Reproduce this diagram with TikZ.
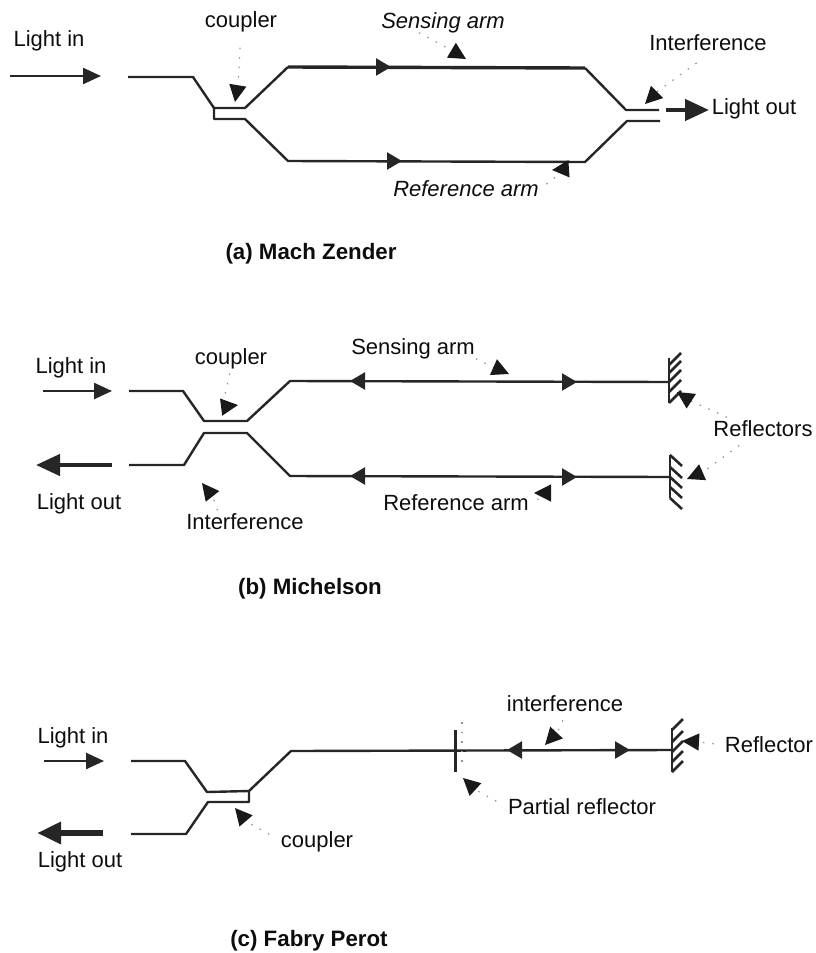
\documentclass[tikz,border=0pt]{standalone}
\usepackage{fontspec}
\setmainfont{Liberation Sans}
\usetikzlibrary{arrows.meta}

\begin{document}
\begin{tikzpicture}[
            x=1pt, y=-1pt,
            label/.style = {inner sep=1pt, text height=18pt, text depth=3pt, text=black!95, font=\fontsize{22}{24}\selectfont},
            caption/.style = {label, font=\fontsize{22.3}{24}\selectfont\bfseries},
            armlabel/.style = {label, font=\fontsize{22}{24}\selectfont\itshape},
            fibre/.style = {draw=black!85, line width=2.4pt, line join=round},
            flow/.style = {fibre, -{Triangle[length=15pt, width=17pt]}},
            lightin/.style = {fibre, -{Triangle[length=18pt, width=16pt]}},
            lightout/.style = {fibre, line width=4.4pt, -{Triangle[length=24pt, width=21pt]}},
            pointer/.style = {draw=black!42, line width=1.2pt, dash pattern=on 1.5pt off 8pt, -{Triangle[length=17pt, width=17pt, black!90]}},
            mirror/.style = {fibre, line width=2.6pt},
        ]
            \useasboundingbox (0,0) rectangle (816,953);

            % (a) Labels
            \node[label] (inA) at (49,39) {Light in};
            \node[label] (cplA) at (241,20) {coupler};
            \node[armlabel] (sensA) at (443,21) {Sensing arm};
            \node[armlabel] (refA) at (466,189) {Reference arm};
            \node[label] (intA) at (708,43) {Interference};
            \node[label] (outA) at (754,107) {Light out};
            \node[caption] (capA) at (311,252) {(a) Mach Zender};

            % (a) Fibres
            \draw[fibre] (128,77) -- (193,77) -- (214,108) -- (245,108) -- (288,67);
            \draw[fibre, line width=3.4pt] (288,67) -- (585,68);
            \draw[fibre] (585,68) -- (626,110) -- (659,110);
            \draw[fibre] (214,108) -- (214,119) -- (245,119) -- (288,161) -- (585,162) -- (627,121) -- (660,121);

            % (a) Light arrows
            \coordinate (inAa) at (10,76);
            \coordinate (inAb) at (101,76);
            \coordinate (outAa) at (666,110);
            \coordinate (outAb) at (709,110);
            \draw[lightin] (inAa) -- (inAb);
            \draw[lightout] (outAa) -- (outAb);
            \foreach \x/\y in {391/67, 402/161}
                \draw[flow] (\x-17,\y) -- (\x,\y);

            % (a) Pointers
            \coordinate (cplAb) at (238,84);
            \coordinate (cplAt) at (235,102);
            \coordinate (sensAb) at (451,50);
            \coordinate (sensAt) at (466,59);
            \coordinate (refAb) at (566,169);
            \coordinate (refAt) at (552,170);
            \coordinate (intAb) at (658,91);
            \coordinate (intAt) at (645,104);
            \draw[pointer, shorten <=16pt] (cplA.south) -- (cplAb) -- (cplAt);
            \draw[pointer] (sensA.206) -- (sensAb) -- (sensAt);
            \draw[pointer, shorten <=8pt] (refA.east) -- (refAb) -- (refAt);
            \draw[pointer, shorten <=14pt] (intA.south) -- (intAb) -- (intAt);

            % (b) Labels
            \node[label] (inB) at (71,366) {Light in};
            \node[label] (outB) at (79,502) {Light out};
            \node[label] (cplB) at (231,357) {coupler};
            \node[label] (sensB) at (413,347) {Sensing arm};
            \node[label] (refB) at (456,503) {Reference arm};
            \node[label] (intB) at (245,522) {Interference};
            \node[label] (reflB) at (763,429) {Reflectors};
            \node[caption] (capB) at (310,587) {(b) Michelson};

            % (b) Fibres
            \draw[fibre] (129,391) -- (183,391) -- (204,421) -- (247,421) -- (290,381) -- (669,382);
            \draw[fibre] (129,465) -- (184,465) -- (204,433) -- (247,433) -- (290,476) -- (669,477);

            % (b) Reflectors
            \draw[mirror] (669,358) -- (669,403);
            \foreach \y in {365,373,382,392,403}
                \draw[mirror] (669,\y) -- ++(12,-12);
            \draw[mirror] (670,455) -- (670,498);
            \foreach \y in {455,467,477,487,498}
                \draw[mirror] (670,\y) -- ++(12,11);

            % (b) Light arrows
            \coordinate (inBa) at (43,391);
            \coordinate (inBb) at (112,391);
            \coordinate (outBa) at (112,465);
            \coordinate (outBb) at (36,465);
            \draw[lightin] (inBa) -- (inBb);
            \draw[lightout] (outBa) -- (outBb);
            \foreach \x/\y in {577/382, 577/477}
                \draw[flow] (\x-17,\y) -- (\x,\y);
            \foreach \x/\y in {350/381, 350/476}
                \draw[flow] (\x+17,\y) -- (\x,\y);

            % (b) Pointers
            \coordinate (cplBb) at (222,407);
            \coordinate (cplBt) at (238,405);
            \coordinate (sensBb) at (491,366);
            \coordinate (sensBt) at (509,374);
            \coordinate (refBb) at (551,493);
            \coordinate (refBt) at (534,493);
            \coordinate (intBb) at (213,497);
            \coordinate (intBt) at (202,483);
            \coordinate (reflBb) at (691,401);
            \coordinate (reflBt) at (677,392);
            \coordinate (reflCb) at (703,472);
            \coordinate (reflCt) at (687,479);
            \draw[pointer, shorten <=5pt] (cplB.south) -- (cplBb) -- (cplBt);
            \draw[pointer] (sensB.south east) -- (sensBb) -- (sensBt);
            \draw[pointer, shorten <=8pt] (refB.east) -- (refBb) -- (refBt);
            \draw[pointer] (intB.157) -- (intBb) -- (intBt);
            \draw[pointer] (reflB.162) -- (reflBb) -- (reflBt);
            \draw[pointer, shorten <=8pt] (reflB.214) -- (reflCb) -- (reflCt);

            % (c) Labels
            \node[label] (inC) at (73,736) {Light in};
            \node[label] (outC) at (80,860) {Light out};
            \node[label] (cplC) at (317,840) {coupler};
            \node[label] (intC) at (565,704) {interference};
            \node[label] (partC) at (582,807) {Partial reflector};
            \node[label] (reflD) at (769,745) {Reflector};
            \node[caption] (capC) at (309,939) {(c) Fabry Perot};

            % (c) Fibres
            \draw[fibre] (131,761) -- (185,761) -- (207,792) -- (249,791) -- (291,751) -- (672,750);
            \draw[fibre] (131,834) -- (186,834) -- (208,802) -- (249,802) -- (249,791);

            % (c) Partial reflector and reflector
            \draw[mirror, line width=3pt] (455,730) -- (455,772);
            \draw[pointer, -] (462,722) -- (462,766);
            \draw[mirror] (672,728) -- (672,772);
            \foreach \y in {730,742,752,762,772}
                \draw[mirror] (672,\y) -- ++(11,-11);

            % (c) Light arrows
            \coordinate (inCa) at (44,761);
            \coordinate (inCb) at (104,761);
            \coordinate (outCa) at (103,833);
            \coordinate (outCb) at (37,833);
            \draw[lightin] (inCa) -- (inCb);
            \draw[lightout, line width=6.5pt] (outCa) -- (outCb);
            \draw[flow] (630-17,750) -- (630,750);
            \draw[flow] (507+17,750) -- (507,750);

            % (c) Pointers
            \coordinate (cplCb) at (247,822);
            \coordinate (cplCt) at (235,808);
            \coordinate (intCb) at (558,731);
            \coordinate (intCt) at (545,745);
            \coordinate (partCb) at (476,790);
            \coordinate (partCt) at (463,778);
            \coordinate (reflDb) at (699,742);
            \coordinate (reflDt) at (682,741);
            \draw[pointer, shorten <=12pt] (cplC.west) -- (cplCb) -- (cplCt);
            \draw[pointer, shorten <=5pt] (intC.south) -- (intCb) -- (intCt);
            \draw[pointer, shorten <=12pt] (partC.west) -- (partCb) -- (partCt);
            \draw[pointer, shorten <=10pt] (reflD.west) -- (reflDb) -- (reflDt);
        \end{tikzpicture}
\end{document}
